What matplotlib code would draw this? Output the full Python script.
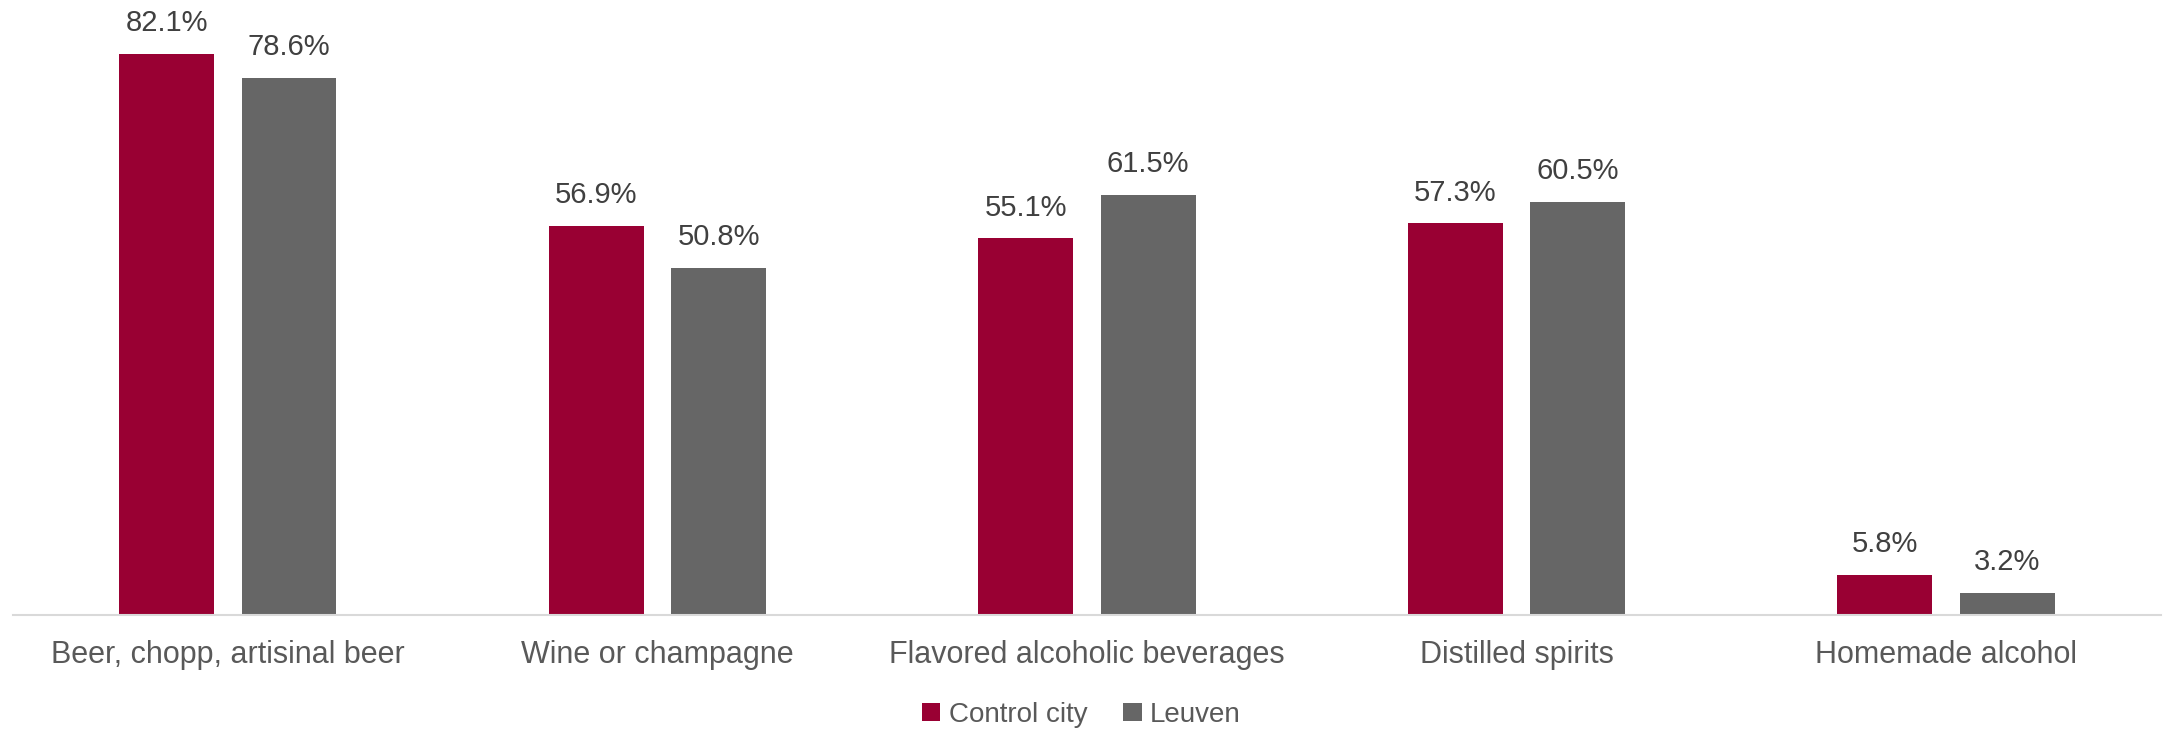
import numpy as np
import matplotlib.pyplot as plt

categories = ['Beer, chopp, artisinal beer', 'Wine or champagne',
              'Flavored alcoholic beverages', 'Distilled spirits', 'Homemade alcohol']
control_city = [82.1, 56.9, 55.1, 57.3, 5.8]
leuven = [78.6, 50.8, 61.5, 60.5, 3.2]

red = '#990033'
grey = '#666666'
font = 'Liberation Sans'

fig = plt.figure(figsize=(21.63, 7.31), dpi=100)
ax = fig.add_axes([0.006, 0.159, 0.993, 0.841])

x = np.arange(len(categories))
w = 0.221
off = 0.1425
b1 = ax.bar(x - off, control_city, w, color=red, label='Control city')
b2 = ax.bar(x + off, leuven, w, color=grey, label='Leuven')

for bars, vals in [(b1, control_city), (b2, leuven)]:
    for rect, v in zip(bars, vals):
        ax.annotate(f'{v:.1f}%', (rect.get_x() + rect.get_width() / 2, v),
                    xytext=(0, 12), textcoords='offset points', ha='center', va='bottom',
                    fontsize=21, color='#404040', family=font, clip_on=False)

ax.set_xlim(-0.5, 4.5)
ax.set_ylim(0, 90)
ax.set_xticks(x)
ax.set_xticklabels(categories, fontsize=22, color='#595959', family=font)
ax.tick_params(axis='x', length=0, pad=18)
ax.set_yticks([])
for s in ['top', 'right', 'left']:
    ax.spines[s].set_visible(False)
ax.spines['bottom'].set_color('#D9D9D9')
ax.spines['bottom'].set_linewidth(1.5)

leg = fig.legend(loc='center', bbox_to_anchor=(0.5, 0.022), ncol=2, frameon=False,
                 prop={'family': font, 'size': 20}, handlelength=0.65, handleheight=0.65,
                 handletextpad=0.3, columnspacing=1.3)
for t in leg.get_texts():
    t.set_color('#595959')

fig.savefig('out.png', dpi=100)
